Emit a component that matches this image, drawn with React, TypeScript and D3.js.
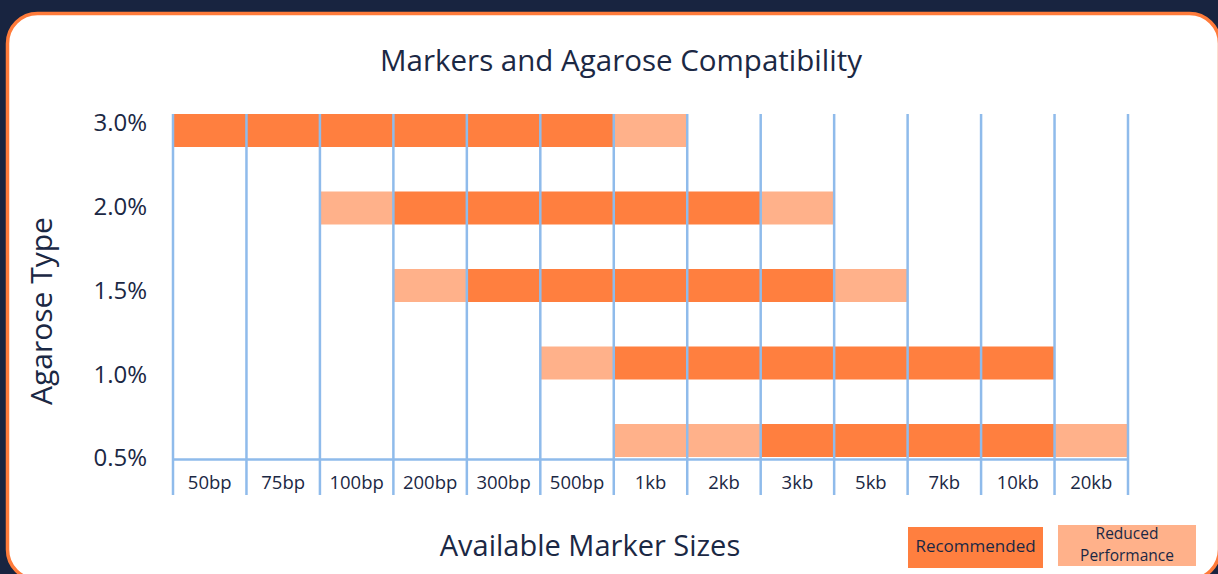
import React from "react";
import * as d3 from "d3";

// marker sizes (x categories)
const markerSizes = ["50bp", "75bp", "100bp", "200bp", "300bp", "500bp", "1kb", "2kb", "3kb", "5kb", "7kb", "10kb", "20kb"];
// agarose percentages (y categories, top to bottom)
const agaroseTypes = ["3.0%", "2.0%", "1.5%", "1.0%", "0.5%"];

// cells per agarose type: R = recommended, P = reduced performance, "" = none
const rows3_0 = ["R", "R", "R", "R", "R", "R", "P", "", "", "", "", "", ""];
const rows2_0 = ["", "", "P", "R", "R", "R", "R", "R", "P", "", "", "", ""];
const rows1_5 = ["", "", "", "P", "R", "R", "R", "R", "R", "P", "", "", ""];
const rows1_0 = ["", "", "", "", "", "P", "R", "R", "R", "R", "R", "R", ""];
const rows0_5 = ["", "", "", "", "", "", "P", "P", "R", "R", "R", "R", "P"];
const compat = [rows3_0, rows2_0, rows1_5, rows1_0, rows0_5];

const W = 1218;
const H = 574;
const FONT = "'Open Sans', 'Noto Sans', sans-serif";
const INK = "#1b2844";
const COL_REC = "#ff7f3f";
const COL_RED = "#ffb18a";
const GRID = "#8fbbeb";

export default function App() {
  const x = d3.scaleBand().domain(markerSizes).range([173, 1128]).padding(0);
  const yBar = d3.scalePoint().domain(agaroseTypes).range([130.5, 440.5]);
  const yLabel = d3.scalePoint().domain(agaroseTypes).range([125, 460]);
  const barH = 33;

  const cells: { t: string; m: string; v: string }[] = [];
  compat.forEach((row, i) =>
    row.forEach((v, j) => {
      if (v) cells.push({ t: agaroseTypes[i], m: markerSizes[j], v });
    })
  );

  const gridXs = [...markerSizes.map((m) => x(m)!), x.range()[1]];

  return (
    <svg
      width={W}
      height={H}
      style={{ position: "absolute", left: 0, top: 0, display: "block" }}
      fontFamily={FONT}
    >
      <rect x={0} y={0} width={W} height={H} fill="#182440" />
      <rect x={7.5} y={13.5} width={1212} height={566} rx={30} ry={30} fill="#fff" stroke="#ff7b3a" strokeWidth={3.5} />

      <text x={621} y={63} textAnchor="middle" dominantBaseline="middle" fontSize={29.5} fill={INK}>
        Markers and Agarose Compatibility
      </text>

      {cells.map((c, i) => (
        <rect
          key={i}
          x={x(c.m)!}
          y={yBar(c.t)! - barH / 2}
          width={x.bandwidth()}
          height={barH}
          fill={c.v === "R" ? COL_REC : COL_RED}
        />
      ))}

      {gridXs.map((gx, i) => (
        <line key={i} x1={gx} x2={gx} y1={114} y2={495} stroke={GRID} strokeWidth={2.5} />
      ))}
      <line x1={173} x2={1128} y1={459.5} y2={459.5} stroke={GRID} strokeWidth={2.5} />

      {agaroseTypes.map((t) => (
        <text key={t} x={147} y={yLabel(t)!} textAnchor="end" dominantBaseline="middle" fontSize={24} fill={INK}>
          {t}
        </text>
      ))}

      {markerSizes.map((m) => (
        <text key={m} x={x(m)! + x.bandwidth() / 2} y={484} textAnchor="middle" dominantBaseline="middle" fontSize={18.5} fill={INK}>
          {m}
        </text>
      ))}

      <text
        transform={`translate(44,311) rotate(-90)`}
        textAnchor="middle"
        dominantBaseline="middle"
        fontSize={30}
        fill={INK}
      >
        Agarose Type
      </text>
      <text x={590} y={548} textAnchor="middle" dominantBaseline="middle" fontSize={29} fill={INK}>
        Available Marker Sizes
      </text>

      <rect x={908} y={527} width={135} height={41} fill={COL_REC} />
      <text x={975.5} y={547} textAnchor="middle" dominantBaseline="middle" fontSize={17} fill={INK}>
        Recommended
      </text>
      <rect x={1058} y={525} width={138} height={41} fill={COL_RED} />
      <text x={1127} y={535} textAnchor="middle" dominantBaseline="middle" fontSize={15.5} fill={INK}>
        Reduced
      </text>
      <text x={1127} y={556.5} textAnchor="middle" dominantBaseline="middle" fontSize={15.5} fill={INK}>
        Performance
      </text>
    </svg>
  );
}
